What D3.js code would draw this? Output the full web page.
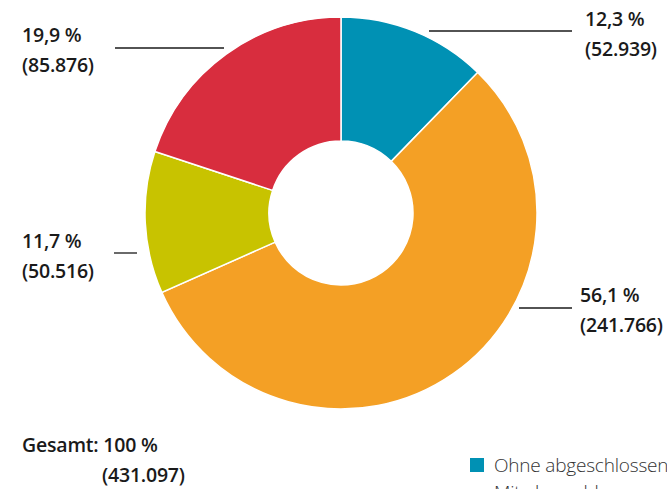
<!DOCTYPE html>
<html>
<head>
<meta charset="utf-8">
<script src="https://cdn.jsdelivr.net/npm/d3@7"></script>
<style>
  body { margin: 0; background: #fff; overflow: hidden; }
  svg { display: block; font-family: "Open Sans", sans-serif; }
</style>
</head>
<body>
<span></span>
<script>
// donut chart, share of groups (Anteil und Anzahl)

var categories = ["Ohne abgeschlossene Berufsausbildung", "Mit abgeschlossener Berufsausbildung", "Mit Hochschulabschluss", "Ausbildung unbekannt"];
var values = [52939, 241766, 50516, 85876];
var percentLabels = ["12,3 %", "56,1 %", "11,7 %", "19,9 %"];
var countLabels = ["(52.939)", "(241.766)", "(50.516)", "(85.876)"];
var colors = ["#0091b4", "#f4a025", "#c8c300", "#d82d3e"];
var totalLabel = "Gesamt: 100 %";
var totalCount = "(431.097)";

var width = 667, height = 489;
var cx = 341, cy = 213;
var outerR = 196, innerR = 72;

var svg = d3.select("span")
    .append("svg")
    .attr("width", width)
    .attr("height", height);

var pie = d3.pie().sort(null).value(d => d);
var arcs = pie(values);
var arc = d3.arc().innerRadius(innerR).outerRadius(outerR);

var g = svg.append("g").attr("transform", `translate(${cx},${cy})`);
g.selectAll("path")
    .data(arcs)
    .join("path")
    .attr("d", arc)
    .attr("fill", (d, i) => colors[i])
    .attr("stroke", "#fff")
    .attr("stroke-width", 1.5);

// label placement: leader line + two text lines
var labelPos = [
    {line: [429, 572, 31], x: 585, y: 26},
    {line: [519, 572, 308], x: 580, y: 302},
    {line: [114, 137, 253], x: 22, y: 248},
    {line: [115, 224, 48], x: 22, y: 42}
];

var labels = svg.append("g").selectAll("g")
    .data(arcs)
    .join("g");

labels.append("line")
    .attr("x1", (d, i) => labelPos[i].line[0])
    .attr("x2", (d, i) => labelPos[i].line[1])
    .attr("y1", (d, i) => labelPos[i].line[2])
    .attr("y2", (d, i) => labelPos[i].line[2])
    .attr("stroke", "#1a1a1a")
    .attr("stroke-width", 1.3);

var txt = labels.append("text")
    .attr("x", (d, i) => labelPos[i].x)
    .attr("y", (d, i) => labelPos[i].y)
    .attr("font-size", 19.5)
    .attr("font-weight", 600)
    .attr("letter-spacing", -0.2)
    .attr("fill", "#1a1a1a");
txt.append("tspan").text((d, i) => percentLabels[i]);
txt.append("tspan")
    .attr("x", (d, i) => labelPos[i].x)
    .attr("dy", 30)
    .text((d, i) => countLabels[i]);

// total
var tot = svg.append("text")
    .attr("font-size", 19.5)
    .attr("font-weight", 600)
    .attr("letter-spacing", -0.2)
    .attr("fill", "#1a1a1a");
tot.append("tspan").attr("x", 22).attr("y", 452).text(totalLabel);
tot.append("tspan").attr("x", 102).attr("y", 482).text(totalCount);

// legend (runs off the bottom of the page, like the original)
var legend = svg.append("g").attr("transform", "translate(470,458)");
legend.append("rect")
    .attr("width", 14)
    .attr("height", 14)
    .attr("fill", colors[0]);
var lt = legend.append("text")
    .attr("font-size", 19)
    .attr("font-weight", 300)
    .attr("letter-spacing", -0.2)
    .attr("fill", "#333");
lt.append("tspan").attr("x", 24).attr("y", 14).text(categories[0]);
lt.append("tspan").attr("x", 24).attr("y", 41).text(categories[1]);
</script>
</body>
</html>
